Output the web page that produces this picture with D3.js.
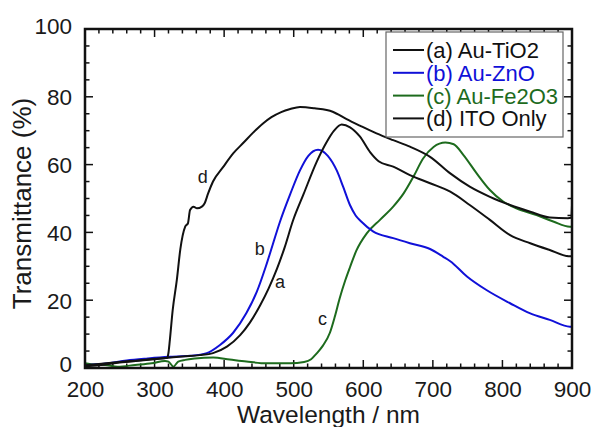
<!DOCTYPE html>
<html><head><meta charset="utf-8">
<script src="https://cdn.jsdelivr.net/npm/d3@7/dist/d3.min.js"></script>
<style>body{margin:0;background:#fff}svg{display:block}text{font-family:"Liberation Sans",Arial,sans-serif}</style>
</head><body><svg id="c" width="594" height="427"></svg>
<script>
// Series data: [wavelength nm, transmittance %]
const seriesA = [[200,0.5],[220,0.8],[250,1.6],[280,2.2],[300,2.6],[320,3.0],[340,3.4],[365,3.8],[384,4.4],[404,6.3],[423,9.7],[437,13.4],[452,18.6],[464,23.5],[476,29.3],[487,35.6],[499,43.5],[514,51.2],[533,60.8],[547,66.5],[558,70],[569,71.8],[581,71],[595,68.3],[610,63.6],[622,61],[643,59.4],[667,56.9],[696,54.5],[725,52],[753,48.1],[782,43.7],[811,39.2],[840,36.8],[868,34.8],[895,33.0],[900,33.0]];
const seriesB = [[200,0.8],[230,1.3],[260,2.2],[290,2.8],[320,3.3],[351,3.6],[375,4.4],[394,6.8],[413,10.4],[432,16.2],[447,22.5],[460,30],[470,36.5],[480,43],[495,51.3],[509,58.3],[521,62.6],[535,64.4],[549,62.6],[562,58.2],[571,53.5],[581,48],[589,45],[597,43.2],[614,40.3],[643,38.3],[667,36.8],[696,35.1],[715,32.8],[725,31.5],[749,27],[777,23],[811,19.1],[840,16.1],[868,14.2],[897,12.2],[900,12.2]];
const seriesC = [[200,1.4],[215,1.0],[229,0.9],[247,0.4],[272,0.9],[296,1.4],[315,2.1],[320,1.9],[327,0.4],[334,1.9],[344,2.4],[358,2.8],[384,3.1],[408,2.5],[432,1.9],[461,1.4],[495,1.4],[515,1.8],[525,2.6],[533,4.3],[542,6.6],[552,10.4],[559,15.1],[566,20.5],[574,25.8],[581,29.8],[590,34.6],[605,39.7],[624,43.7],[643,47.6],[658,51.5],[672,56.4],[686,61.8],[701,65.2],[718,66.5],[730,66.0],[744,62.8],[763,57.4],[782,52.5],[801,49.1],[820,47.1],[849,45.1],[873,43.2],[897,41.7],[900,41.7]];
const seriesD = [[200,0.8],[220,1.2],[250,1.8],[280,2.3],[300,2.7],[318,3.0],[320,4.5],[322,8.3],[326,17],[332,26],[337,35],[344,41.7],[348,42.7],[351,46.6],[356,47.6],[361,47.1],[368,47.6],[372,48.6],[377,51.5],[384,55.0],[399,59.4],[413,63.3],[428,66.5],[442,69.5],[455,72],[468,74],[482,75.5],[495,76.4],[509,77.0],[530,76.6],[556,75.6],[576,73.4],[595,71.5],[619,69.2],[643,67.2],[667,65.3],[696,62.3],[725,57.4],[753,53.5],[782,50.5],[811,48.1],[840,46.1],[868,44.4],[894,44.2],[899,44.3],[900,48]];
const seriesNames = ["(a) Au-TiO2","(b) Au-ZnO","(c) Au-Fe2O3","(d) ITO Only"];
const seriesColors = ["#111111","#1010d8","#1d6b1d","#111111"];
const curveLabels = [["a",[473,23.6]],["b",[444,33.3]],["c",[535,12.7]],["d",[362,54.6]]];
const xTicks = [200,300,400,500,600,700,800,900];
const yTicks = [0,20,40,60,80,100];
const xLabel = "Wavelength / nm";
const yLabel = "Transmittance (%)";

const svg = d3.select("#c");
const L=85, R=572, T=29, B=368;
const x = d3.scaleLinear().domain([200,900]).range([L,R]);
const y = d3.scaleLinear().domain([0,100]).range([B,T]);

svg.append("defs").append("clipPath").attr("id","clip").append("rect")
  .attr("x",L).attr("y",T).attr("width",R-L).attr("height",B-T);

// ticks
const xMinor = d3.range(200,901,20);
const yMinor = d3.range(0,101,5);
const tk = svg.append("g").attr("stroke","#111").attr("stroke-width",1.5);
xMinor.forEach(v=>{
  const len = v%100===0?8:4.5;
  tk.append("line").attr("x1",x(v)).attr("x2",x(v)).attr("y1",B).attr("y2",B-len);
  tk.append("line").attr("x1",x(v)).attr("x2",x(v)).attr("y1",T).attr("y2",T+len);
});
yMinor.forEach(v=>{
  const len = v%20===0?8:4.5;
  tk.append("line").attr("y1",y(v)).attr("y2",y(v)).attr("x1",L).attr("x2",L+len);
  tk.append("line").attr("y1",y(v)).attr("y2",y(v)).attr("x1",R).attr("x2",R-len);
});

// tick labels via axes
const xa = svg.append("g").attr("transform",`translate(0,${B})`)
  .call(d3.axisBottom(x).tickValues(xTicks).tickSize(0).tickPadding(0).tickFormat(d3.format("d")));
xa.select(".domain").remove();
xa.selectAll("text").attr("font-size",22.5).attr("fill","#1a1a1a").attr("dy",null).attr("y",29)
  .attr("font-family","Liberation Sans, Arial, sans-serif");
const ya = svg.append("g").attr("transform",`translate(${L},0)`)
  .call(d3.axisLeft(y).tickValues(yTicks).tickSize(0).tickPadding(0).tickFormat(d3.format("d")));
ya.select(".domain").remove();
ya.selectAll("text").attr("font-size",22.5).attr("fill","#1a1a1a").attr("x",-13)
  .attr("dy",d=> d===0 ? "0.14em" : (d===100 ? "0.22em" : "0.36em"))
  .attr("font-family","Liberation Sans, Arial, sans-serif");

// curves
const line = d3.line().x(d=>x(d[0])).y(d=>y(d[1])).curve(d3.curveMonotoneX);
const g = svg.append("g").attr("clip-path","url(#clip)");
[[seriesC,2],[seriesB,1],[seriesA,0],[seriesD,3]].forEach(([s,idx])=>{
  g.append("path").datum(s).attr("d",line).attr("fill","none")
   .attr("stroke",seriesColors[idx]).attr("stroke-width",2).attr("stroke-linejoin","round");
});

// frame
svg.append("rect").attr("x",L).attr("y",T).attr("width",R-L).attr("height",B-T)
  .attr("fill","none").attr("stroke","#111").attr("stroke-width",2.5);

// curve labels
curveLabels.forEach(([t,[wx,wy]])=>{
  svg.append("text").attr("x",x(wx)).attr("y",y(wy)).attr("font-size",18).attr("fill","#1a1a1a").text(t);
});

// legend
const lg = svg.append("g");
lg.append("rect").attr("x",386).attr("y",32).attr("width",177).attr("height",105)
  .attr("fill","#fff").attr("stroke","#666").attr("stroke-width",1.2);
seriesNames.forEach((n,i)=>{
  const yy = 50 + i*22.8;
  lg.append("line").attr("x1",393).attr("x2",424).attr("y1",yy).attr("y2",yy)
    .attr("stroke",seriesColors[i]).attr("stroke-width",2);
  lg.append("text").attr("x",426).attr("y",yy).attr("dy","0.36em").attr("font-size",22)
    .attr("fill",seriesColors[i]).text(n);
});

// axis titles
svg.append("text").attr("x",(L+R)/2).attr("y",423).attr("text-anchor","middle")
  .attr("font-size",24.5).attr("fill","#1a1a1a").text(xLabel);
svg.append("text").attr("transform",`translate(31,${(T+B)/2+5}) rotate(-90)`).attr("text-anchor","middle")
  .attr("font-size",26).attr("fill","#1a1a1a").text(yLabel);
</script></body></html>
